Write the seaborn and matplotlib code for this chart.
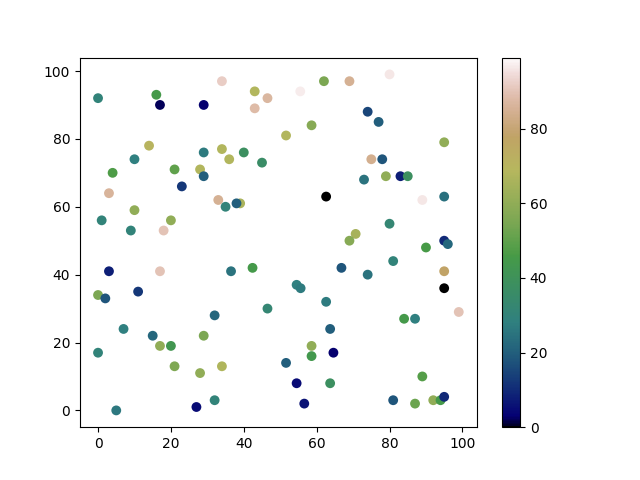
import numpy as np
import matplotlib
matplotlib.use("Agg")
import matplotlib.pyplot as plt
import seaborn as sns

x = [0, 16, 17, 29, 34, 43, 46.5, 43, 14, 10, 4, 3, 10, 1, 9, 18, 20, 21, 23, 29,
     28, 29, 34, 36, 40, 45, 33, 35, 39, 38,
     55.5, 62, 69, 80, 74, 77, 58.6, 51.6, 95, 75, 78, 79, 83, 85, 73, 62.6, 89, 95,
     80, 70.7, 69, 90, 95, 96,
     3, 17, 36.5, 42.4, 0, 2, 11, 46.5, 32, 7, 15, 29, 17, 20, 0, 21, 34, 28, 32, 27, 5,
     66.8, 74, 81, 95, 95, 54.5, 55.6, 62.6, 99, 84, 87, 63.7, 58.6, 58.6, 64.6, 51.6,
     54.5, 63.7, 56.6, 89, 81, 87, 92, 94, 95]
y = [92, 93, 90, 90, 97, 94, 92, 89, 78, 74, 70, 64, 59, 56, 53, 53, 56, 71, 66, 76,
     71, 69, 77, 74, 76, 73, 62, 60, 61, 61,
     94, 97, 97, 99, 88, 85, 84, 81, 79, 74, 74, 69, 69, 69, 68, 63, 62, 63,
     55, 52, 50, 48, 50, 49,
     41, 41, 41, 42, 34, 33, 35, 30, 28, 24, 22, 22, 19, 19, 17, 13, 13, 11, 3, 1, 0,
     42, 40, 44, 41, 36, 37, 36, 32, 29, 27, 27, 24, 19, 16, 17, 14,
     8, 8, 2, 10, 3, 2, 3, 3, 4]
c = [30, 45, 2, 3, 92, 68, 87, 88, 70, 28, 47, 86, 60, 30, 30, 90, 60, 50, 12, 27,
     68, 20, 68, 68, 38, 36, 85, 30, 66, 20,
     97, 55, 85, 96, 15, 20, 58, 68, 60, 84, 18, 60, 8, 38, 25, 0, 96, 24,
     32, 65, 58, 46, 10, 22,
     8, 90, 25, 45, 55, 18, 12, 32, 22, 28, 22, 55, 60, 43, 30, 56, 67, 60, 30, 5, 26,
     18, 25, 30, 78, 0, 28, 27, 27, 90, 45, 28, 20, 60, 44, 3, 20,
     5, 38, 6, 48, 18, 52, 60, 45, 10]

fig, ax = plt.subplots(figsize=(6.4, 4.8), dpi=100)
norm = plt.Normalize(0, 99)
sns.scatterplot(x=x, y=y, hue=c, palette="gist_earth", hue_norm=norm,
                s=50, linewidth=0, legend=False, ax=ax)
sm = plt.cm.ScalarMappable(cmap="gist_earth", norm=norm)
fig.colorbar(sm, ax=ax)
ax.set_xticks(range(0, 101, 20))
ax.set_yticks(range(0, 101, 20))
fig.savefig("out.png")
